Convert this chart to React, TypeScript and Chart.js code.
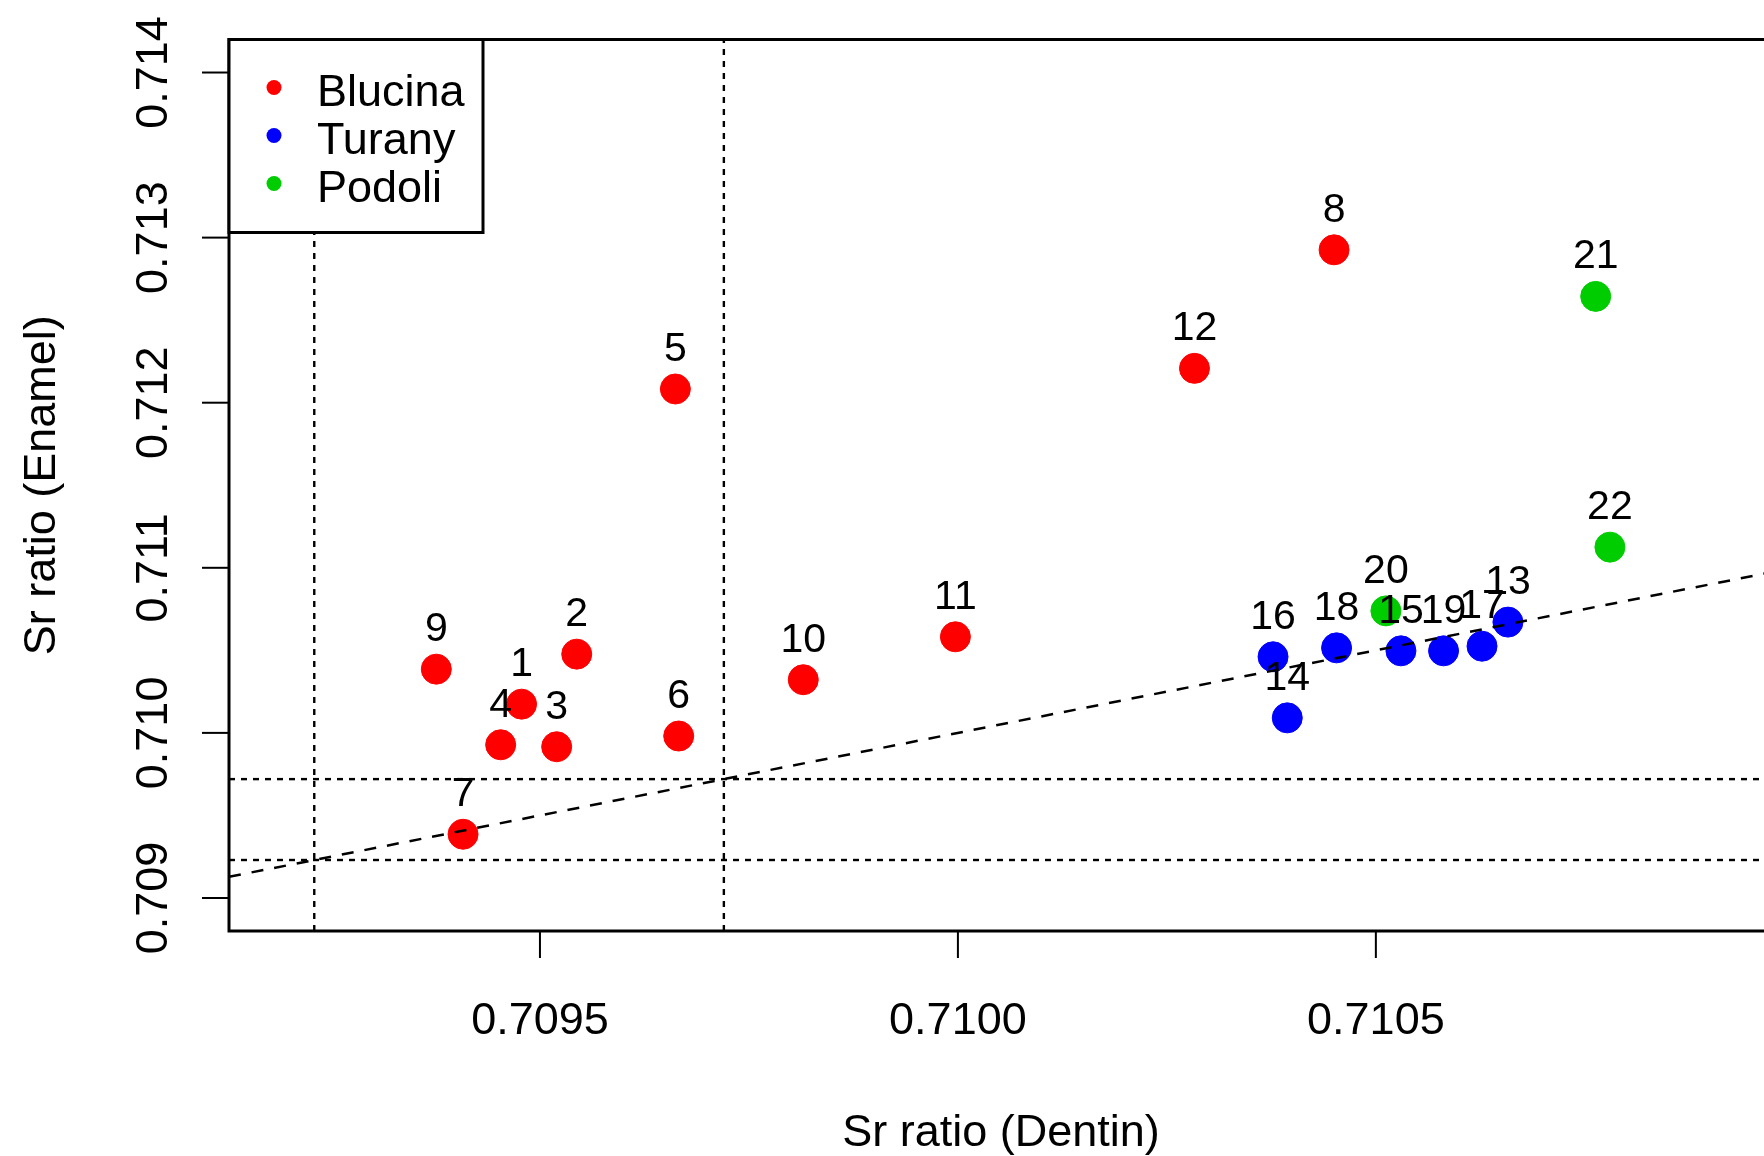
import React, { useEffect, useRef } from "react";
import { Chart, registerables } from "chart.js";

Chart.register(...registerables);

// ---- data ----
const blucinaIds = [1, 2, 3, 4, 5, 6, 7, 8, 9, 10, 11, 12];
const blucinaX = [0.709478, 0.709544, 0.70952, 0.709453, 0.709662, 0.709666, 0.709408, 0.71045, 0.709376, 0.709815, 0.709997, 0.710283];
const blucinaY = [0.710174, 0.710477, 0.709916, 0.709928, 0.712083, 0.709981, 0.709386, 0.712926, 0.710386, 0.710322, 0.710582, 0.712208];

const turanyIds = [13, 14, 15, 16, 17, 18, 19];
const turanyX = [0.710658, 0.710394, 0.71053, 0.710377, 0.710627, 0.710453, 0.710581];
const turanyY = [0.710671, 0.710091, 0.710497, 0.710461, 0.710525, 0.710515, 0.710497];

const podoliIds = [20, 21, 22];
const podoliX = [0.710512, 0.710763, 0.71078];
const podoliY = [0.710739, 0.712644, 0.711125];

const seriesNames = ["Blucina", "Turany", "Podoli"];
const seriesColors = ["#FF0000", "#0000FF", "#00CD00"];

const xTicks = [0.7095, 0.71, 0.7105];
const xTickLabels = ["0.7095", "0.7100", "0.7105"];
const yTicks = [0.709, 0.71, 0.711, 0.712, 0.713, 0.714];
const yTickLabels = ["0.709", "0.710", "0.711", "0.712", "0.713", "0.714"];

const xLimits = [0.709128, 0.711072];
const yLimits = [0.7088, 0.7142];

// local baseline range (dotted reference lines on both axes)
const refLevels = [0.70923, 0.70972];

const xTitle = "Sr ratio (Dentin)";
const yTitle = "Sr ratio (Enamel)";

const FONT = '"Liberation Sans", Arial, sans-serif';

function pts(xs: number[], ys: number[]) {
  return xs.map((x, i) => ({ x, y: ys[i] }));
}

export default function App() {
  const ref = useRef<HTMLCanvasElement | null>(null);

  useEffect(() => {
    if (!ref.current) return;
    const ids = [blucinaIds, turanyIds, podoliIds];
    const series = [
      pts(blucinaX, blucinaY),
      pts(turanyX, turanyY),
      pts(podoliX, podoliY),
    ];

    const pointSets: any[] = series.map((d, i) => ({
      type: "scatter",
      label: seriesNames[i],
      data: d,
      backgroundColor: seriesColors[i],
      borderColor: seriesColors[i],
      pointRadius: 15,
      pointBorderWidth: 1,
      showLine: false,
      order: 5,
      isPoints: true,
      ids: ids[i],
    }));

    const lineSets: any[] = [
      {
        type: "line",
        label: "1:1",
        data: [
          { x: xLimits[0], y: xLimits[0] },
          { x: xLimits[1], y: xLimits[1] },
        ],
        borderColor: "#000",
        borderWidth: 2.5,
        borderDash: [12, 11],
        pointRadius: 0,
        showLine: true,
        fill: false,
        order: 0,
      },
      ...refLevels.map((v) => ({
        type: "line",
        label: "h" + v,
        data: [
          { x: xLimits[0], y: v },
          { x: xLimits[1], y: v },
        ],
        borderColor: "#000",
        borderWidth: 2.4,
        borderDash: [6, 6],
        pointRadius: 0,
        showLine: true,
        fill: false,
        order: 0,
      })),
      ...refLevels.map((v) => ({
        type: "line",
        label: "v" + v,
        data: [
          { x: v, y: yLimits[0] },
          { x: v, y: yLimits[1] },
        ],
        borderColor: "#000",
        borderWidth: 2.4,
        borderDash: [6, 6],
        pointRadius: 0,
        showLine: true,
        fill: false,
        order: 0,
      })),
    ];

    const decor = {
      id: "rdecor",
      afterDatasetsDraw(chart: any) {
        const ctx = chart.ctx;
        ctx.save();
        ctx.fillStyle = "#000";
        ctx.font = `41px ${FONT}`;
        ctx.textAlign = "center";
        ctx.textBaseline = "alphabetic";
        chart.data.datasets.forEach((ds: any, di: number) => {
          if (!ds.isPoints) return;
          const meta = chart.getDatasetMeta(di);
          meta.data.forEach((el: any, i: number) => {
            ctx.fillText(String(ds.ids[i]), el.x, el.y - 28);
          });
        });
        ctx.restore();
      },
      afterDraw(chart: any) {
        const ctx = chart.ctx;
        const a = chart.chartArea;
        const xs = chart.scales.x;
        const ys = chart.scales.y;
        ctx.save();
        ctx.strokeStyle = "#000";
        ctx.fillStyle = "#000";
        ctx.setLineDash([]);

        // box
        ctx.lineWidth = 3;
        ctx.strokeRect(a.left, a.top, a.right - a.left, a.bottom - a.top);

        // ticks
        ctx.lineWidth = 2;
        yTicks.forEach((v) => {
          const p = ys.getPixelForValue(v);
          ctx.beginPath();
          ctx.moveTo(a.left, p);
          ctx.lineTo(a.left - 27, p);
          ctx.stroke();
        });
        xTicks.forEach((v) => {
          const p = xs.getPixelForValue(v);
          ctx.beginPath();
          ctx.moveTo(p, a.bottom);
          ctx.lineTo(p, a.bottom + 27);
          ctx.stroke();
        });

        // tick labels
        ctx.font = `45px ${FONT}`;
        ctx.textAlign = "center";
        ctx.textBaseline = "alphabetic";
        xTicks.forEach((v, i) => {
          ctx.fillText(xTickLabels[i], xs.getPixelForValue(v), a.bottom + 103);
        });
        yTicks.forEach((v, i) => {
          ctx.save();
          ctx.translate(a.left - 62, ys.getPixelForValue(v));
          ctx.rotate(-Math.PI / 2);
          ctx.fillText(yTickLabels[i], 0, 0);
          ctx.restore();
        });

        // axis titles
        ctx.fillText(xTitle, a.left + 772, a.bottom + 215);
        ctx.save();
        ctx.translate(a.left - 174, (a.top + a.bottom) / 2);
        ctx.rotate(-Math.PI / 2);
        ctx.fillText(yTitle, 0, 0);
        ctx.restore();

        // legend
        const lx = a.left;
        const ly = a.top;
        const lw = 254;
        const lh = 193;
        ctx.fillStyle = "#fff";
        ctx.fillRect(lx, ly, lw, lh);
        ctx.lineWidth = 3;
        ctx.strokeStyle = "#000";
        ctx.strokeRect(lx, ly, lw, lh);
        ctx.font = `45px ${FONT}`;
        ctx.textAlign = "left";
        const pointDs = chart.data.datasets.filter((d: any) => d.isPoints);
        pointDs.forEach((ds: any, i: number) => {
          const cy = ly + 48 + i * 48;
          ctx.fillStyle = ds.backgroundColor;
          ctx.beginPath();
          ctx.arc(lx + 45, cy, 7.5, 0, Math.PI * 2);
          ctx.fill();
          ctx.fillStyle = "#000";
          ctx.fillText(ds.label, lx + 88, cy + 18);
        });

        ctx.restore();
      },
    };

    const chart = new Chart(ref.current, {
      type: "scatter",
      data: { datasets: [...pointSets, ...lineSets] },
      options: {
        responsive: false,
        animation: false,
        devicePixelRatio: 1,
        layout: { padding: { left: 229, top: 39.5, right: 46, bottom: 225 } },
        scales: {
          x: { type: "linear", min: xLimits[0], max: xLimits[1], display: false },
          y: { type: "linear", min: yLimits[0], max: yLimits[1], display: false },
        },
        plugins: {
          legend: { display: false },
          tooltip: { enabled: false },
        },
      },
      plugins: [decor],
    } as any);

    return () => chart.destroy();
  }, []);

  return (
    <div
      style={{
        position: "absolute",
        left: 0,
        top: 0,
        width: 1764,
        height: 1156,
        overflow: "hidden",
        background: "#fff",
      }}
    >
      <canvas ref={ref} width={1900} height={1156} style={{ width: 1900, height: 1156, display: "block" }} />
    </div>
  );
}
